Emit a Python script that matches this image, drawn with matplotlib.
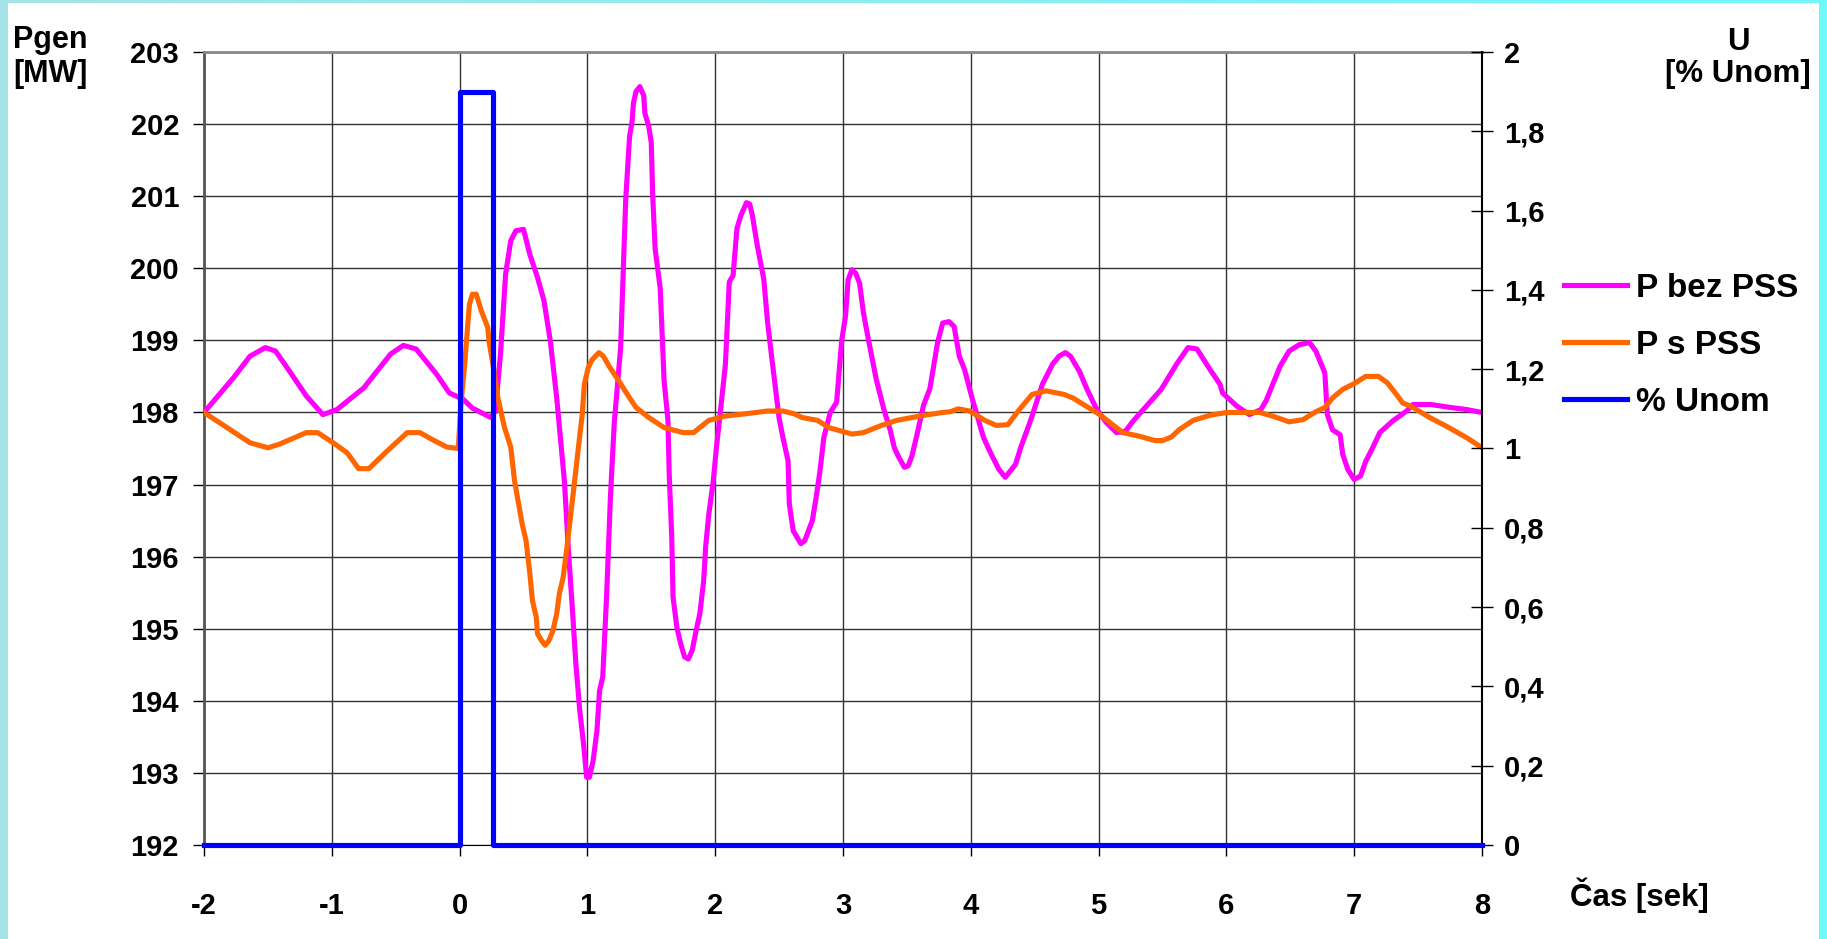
import numpy as np
import matplotlib
matplotlib.use("Agg")
from matplotlib import pyplot as plt
from matplotlib.patches import Rectangle
from matplotlib.colors import LinearSegmentedColormap

plt.rcParams['font.family'] = ['Liberation Sans', 'DejaVu Sans']
plt.rcParams['font.weight'] = 'bold'
plt.rcParams['axes.unicode_minus'] = False

# P bez PSS (cas [s], P [MW])
t_bez = [-2.00, -1.77, -1.64, -1.52, -1.44, -1.33, -1.20, -1.07, -0.96, -0.75,
         -0.54, -0.44, -0.34, -0.18, -0.08, 0.03, 0.10, 0.245, 0.28, 0.32,
         0.36, 0.40, 0.44, 0.50, 0.55, 0.61, 0.66, 0.71, 0.76, 0.82,
         0.85, 0.88, 0.91, 0.94, 0.97, 0.994, 1.015, 1.045, 1.075, 1.095,
         1.12, 1.15, 1.18, 1.21, 1.26, 1.30, 1.33, 1.35, 1.36, 1.38,
         1.41, 1.44, 1.45, 1.48, 1.50, 1.51, 1.53, 1.57, 1.60, 1.63,
         1.64, 1.66, 1.67, 1.70, 1.73, 1.76, 1.79, 1.82, 1.85, 1.88,
         1.91, 1.925, 1.95, 1.985, 2.01, 2.04, 2.08, 2.11, 2.14, 2.17,
         2.20, 2.245, 2.27, 2.29, 2.33, 2.38, 2.41, 2.45, 2.50, 2.53,
         2.57, 2.58, 2.61, 2.64, 2.67, 2.70, 2.76, 2.79, 2.82, 2.85,
         2.90, 2.95, 2.99, 3.02, 3.04, 3.07, 3.10, 3.13, 3.16, 3.20,
         3.26, 3.32, 3.37, 3.40, 3.43, 3.48, 3.51, 3.54, 3.58, 3.63,
         3.68, 3.74, 3.78, 3.83, 3.87, 3.91, 3.95, 4.01, 4.07, 4.10,
         4.16, 4.22, 4.27, 4.35, 4.39, 4.47, 4.56, 4.64, 4.69, 4.74,
         4.78, 4.85, 4.91, 4.98, 5.06, 5.14, 5.21, 5.27, 5.34, 5.49,
         5.61, 5.70, 5.77, 5.87, 5.95, 5.97, 6.08, 6.18, 6.27, 6.31,
         6.42, 6.49, 6.57, 6.65, 6.70, 6.77, 6.79, 6.83, 6.89, 6.91,
         6.95, 7.00, 7.05, 7.09, 7.15, 7.20, 7.30, 7.41, 7.46, 7.60,
         7.75, 7.88, 8.00]
p_bez = [198.00, 198.48, 198.78, 198.90, 198.85, 198.57, 198.23, 197.97, 198.04, 198.34,
         198.81, 198.93, 198.88, 198.53, 198.27, 198.18, 198.06, 197.93, 198.02, 198.81,
         199.92, 200.38, 200.52, 200.54, 200.19, 199.87, 199.55, 198.99, 198.20, 197.05,
         196.13, 195.34, 194.51, 193.87, 193.40, 192.94, 192.94, 193.17, 193.59, 194.14,
         194.33, 195.44, 196.82, 197.85, 198.90, 200.96, 201.83, 202.04, 202.29, 202.45,
         202.52, 202.40, 202.15, 201.97, 201.74, 201.05, 200.27, 199.72, 198.44, 197.90,
         197.15, 196.27, 195.44, 195.02, 194.79, 194.61, 194.58, 194.70, 194.97, 195.21,
         195.67, 196.13, 196.59, 197.05, 197.52, 198.00, 198.67, 199.81, 199.90, 200.55,
         200.73, 200.91, 200.89, 200.74, 200.31, 199.85, 199.25, 198.65, 197.92, 197.65,
         197.33, 196.73, 196.36, 196.27, 196.18, 196.22, 196.50, 196.82, 197.19, 197.65,
         198.00, 198.14, 199.00, 199.34, 199.84, 199.98, 199.93, 199.79, 199.38, 199.00,
         198.46, 198.04, 197.75, 197.52, 197.40, 197.24, 197.26, 197.40, 197.70, 198.10,
         198.33, 198.97, 199.24, 199.26, 199.19, 198.78, 198.60, 198.20, 197.83, 197.65,
         197.42, 197.21, 197.10, 197.28, 197.51, 197.90, 198.39, 198.67, 198.78, 198.83,
         198.78, 198.57, 198.32, 198.06, 197.86, 197.72, 197.74, 197.88, 198.02, 198.32,
         198.67, 198.90, 198.88, 198.60, 198.39, 198.27, 198.09, 197.97, 198.04, 198.16,
         198.64, 198.85, 198.94, 198.97, 198.85, 198.55, 197.97, 197.76, 197.69, 197.42,
         197.21, 197.07, 197.12, 197.32, 197.53, 197.72, 197.88, 198.02, 198.11, 198.11,
         198.07, 198.04, 198.00]

# P s PSS
t_s = [-2.00, -1.64, -1.50, -1.41, -1.20, -1.11, -0.99, -0.88, -0.79, -0.71,
       -0.57, -0.41, -0.31, -0.21, -0.10, -0.01, 0.01, 0.04, 0.064, 0.077,
       0.10, 0.13, 0.17, 0.22, 0.23, 0.27, 0.30, 0.35, 0.40, 0.43,
       0.46, 0.49, 0.52, 0.55, 0.57, 0.60, 0.61, 0.64, 0.67, 0.70,
       0.73, 0.76, 0.78, 0.81, 0.84, 0.87, 0.90, 0.93, 0.96, 0.976,
       1.006, 1.036, 1.09, 1.125, 1.17, 1.245, 1.32, 1.38, 1.48, 1.60,
       1.75, 1.83, 1.95, 2.08, 2.23, 2.41, 2.53, 2.62, 2.68, 2.80,
       2.89, 3.07, 3.16, 3.30, 3.42, 3.60, 3.78, 3.84, 3.90, 3.99,
       4.11, 4.20, 4.29, 4.38, 4.48, 4.59, 4.73, 4.80, 4.90, 5.01,
       5.11, 5.19, 5.32, 5.44, 5.50, 5.57, 5.63, 5.74, 5.87, 6.00,
       6.26, 6.36, 6.49, 6.60, 6.69, 6.77, 6.83, 6.91, 7.00, 7.09,
       7.19, 7.26, 7.33, 7.38, 7.44, 7.59, 7.72, 7.88, 8.00]
p_s = [198.00, 197.58, 197.51, 197.56, 197.72, 197.72, 197.58, 197.44, 197.22, 197.22,
       197.46, 197.72, 197.72, 197.62, 197.52, 197.50, 198.11, 198.67, 199.22, 199.50,
       199.64, 199.64, 199.41, 199.18, 198.99, 198.57, 198.20, 197.80, 197.52, 197.05,
       196.75, 196.45, 196.22, 195.76, 195.39, 195.16, 194.93, 194.84, 194.77, 194.84,
       194.97, 195.21, 195.48, 195.71, 196.13, 196.59, 197.05, 197.52, 197.98, 198.39,
       198.62, 198.73, 198.83, 198.78, 198.64, 198.44, 198.23, 198.07, 197.93, 197.79,
       197.72, 197.72, 197.89, 197.95, 197.98, 198.02, 198.02, 197.98, 197.93, 197.89,
       197.79, 197.70, 197.72, 197.82, 197.89, 197.95, 198.00, 198.01, 198.05, 198.02,
       197.89, 197.82, 197.83, 198.04, 198.25, 198.30, 198.25, 198.20, 198.09, 197.97,
       197.83, 197.72, 197.67, 197.61, 197.61, 197.66, 197.76, 197.89, 197.96, 198.00,
       198.00, 197.95, 197.87, 197.90, 198.00, 198.07, 198.20, 198.32, 198.40, 198.50,
       198.50, 198.41, 198.25, 198.13, 198.09, 197.93, 197.81, 197.65, 197.51]

# % Unom (prava osa)
t_u = [-2, 0, 0, 0.26, 0.26, 8]
u = [0, 0, 1.9, 1.9, 0, 0]

x_ticks = list(range(-2, 9))
y_ticks = list(range(192, 204))
u_ticks = [0, 0.2, 0.4, 0.6, 0.8, 1.0, 1.2, 1.4, 1.6, 1.8, 2.0]
u_labels = ['0', '0,2', '0,4', '0,6', '0,8', '1', '1,2', '1,4', '1,6', '1,8', '2']

W, H = 1827, 939
fig = plt.figure(figsize=(W / 100, H / 100), dpi=100)

# fondo celeste con degradado y zona blanca
bg = fig.add_axes([0, 0, 1, 1], zorder=-10)
cmap = LinearSegmentedColormap.from_list('bg', ['#a6e3e8', '#6ff8fa'])
bg.imshow(np.linspace(0, 1, 256)[None, :], cmap=cmap, aspect='auto', extent=[0, 1, 0, 1])
bg.set_xlim(0, 1)
bg.set_ylim(0, 1)
bg.axis('off')
fig.patches.append(Rectangle((8 / W, 0), (1819 - 8) / W, 1 - 3 / H, transform=fig.transFigure,
                             facecolor='white', edgecolor='none', zorder=-5))

ax = fig.add_axes([204 / W, 1 - 845 / H, (1482 - 204) / W, (845 - 52) / H])
ax.plot(t_bez, p_bez, color='#ff00ff', lw=3.7, label='P bez PSS', zorder=3)
ax.plot(t_s, p_s, color='#ff6600', lw=3.7, label='P s PSS', zorder=3)
ax.set_xlim(-2, 8)
ax.set_ylim(192, 203)
ax.set_xticks(x_ticks)
ax.set_yticks(y_ticks)
ax.grid(True, color='#333333', lw=1.0)
ax.tick_params(axis='y', direction='out', length=8, width=1, pad=10, labelsize=21)
ax.tick_params(axis='x', direction='out', length=8, width=1, pad=26, labelsize=21)
ax.spines['left'].set_color('#555555')
ax.spines['left'].set_linewidth(2)
ax.spines['top'].set_color('#888888')
ax.spines['top'].set_linewidth(2)
ax.spines['right'].set_visible(False)

ax2 = ax.twinx()
ax2.plot(t_u, u, color='#0000ff', lw=3.7, label='% Unom', clip_on=False, zorder=4)
ax2.set_ylim(0, 2)
ax2.set_yticks(u_ticks)
ax2.set_yticklabels(u_labels)
ax2.tick_params(axis='y', direction='inout', length=16, width=1, pad=8, labelsize=21)
ax2.spines['right'].set_color('black')
ax2.spines['right'].set_linewidth(1.5)
for s in ['left', 'top', 'bottom']:
    ax2.spines[s].set_visible(False)

fig.text(50 / W, 1 - 57 / H, 'Pgen\n[MW]', ha='center', va='center', fontsize=22, linespacing=1.15)
fig.text(1738 / W, 1 - 58 / H, 'U\n[% Unom]', ha='center', va='center', fontsize=22.5, linespacing=1.1)
fig.text(1639 / W, 1 - 895 / H, 'Čas [sek]', ha='center', va='center', fontsize=22.5)

h1, l1 = ax.get_legend_handles_labels()
h2, l2 = ax2.get_legend_handles_labels()
fig.legend(h1 + h2, l1 + l2, loc='upper left', bbox_to_anchor=(1564 / W, 1 - 273 / H),
           frameon=False, fontsize=24, handlelength=1.9, handletextpad=0.25,
           labelspacing=0.78, borderpad=0, borderaxespad=0)

plt.savefig('out.png', dpi=100)
plt.close()
